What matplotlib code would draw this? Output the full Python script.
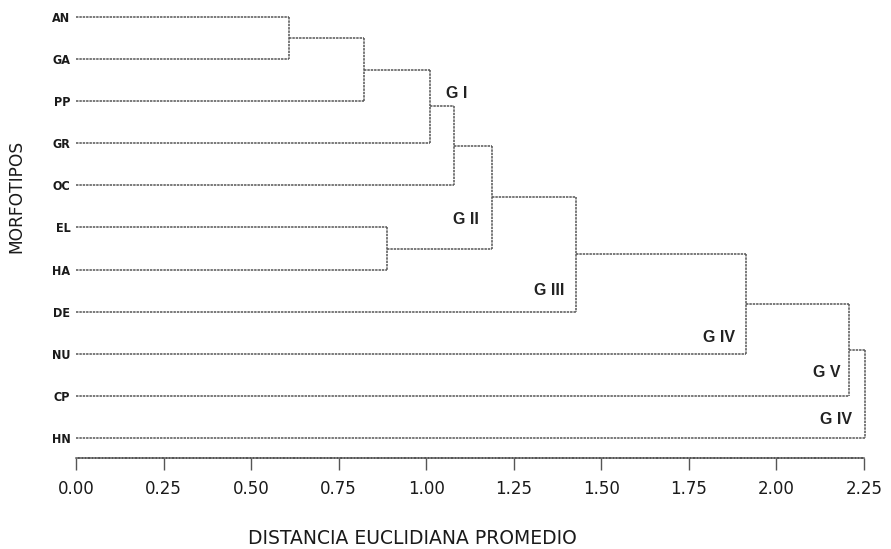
import matplotlib
matplotlib.use("Agg")
import matplotlib.pyplot as plt

# ---- data ----
leaves = ["AN", "GA", "PP", "GR", "OC", "EL", "HA", "DE", "NU", "CP", "HN"]
merge_a = [0, 11, 12, 13, 5, 14, 16, 17, 18, 19]
merge_b = [1, 2, 3, 4, 6, 15, 7, 8, 9, 10]
merge_h = [0.607, 0.823, 1.011, 1.079, 0.889, 1.187, 1.427, 1.912, 2.207, 2.253]
group_labels = ["G I", "G II", "G III", "G IV", "G V", "G IV"]
group_x = [1.086, 1.114, 1.350, 1.835, 2.145, 2.171]
group_y = [1.81, 4.81, 6.5, 7.62, 8.45, 9.55]
xticks = [0.00, 0.25, 0.50, 0.75, 1.00, 1.25, 1.50, 1.75, 2.00, 2.25]

W, H = 891, 549
x0, x1 = 76, 864
ybot = 458
sp = 42.1
fig = plt.figure(figsize=(W / 100, H / 100), dpi=100)
ax = fig.add_axes([x0 / W, 1 - ybot / H, (x1 - x0) / W, ybot / H])

lc = "#555555"
ls = (0, (1.6, 0.6))
lw = 1.1

n = len(leaves)
ypos = {i: float(i) for i in range(n)}
height = {i: 0.0 for i in range(n)}
for k, (a, b, h) in enumerate(zip(merge_a, merge_b, merge_h)):
    node = n + k
    for c in (a, b):
        ax.plot([height[c], h], [ypos[c], ypos[c]], color=lc, ls=ls, lw=lw,
                clip_on=False)
    ax.plot([h, h], [ypos[a], ypos[b]], color=lc, ls=ls, lw=lw, clip_on=False)
    ypos[node] = (ypos[a] + ypos[b]) / 2
    height[node] = h

for t, x, y in zip(group_labels, group_x, group_y):
    ax.text(x, y, t, ha="center", va="center", fontsize=11.5,
            fontweight="bold", color="#222222",
            family=["Liberation Sans", "DejaVu Sans"])

cond = dict(family=["DejaVu Sans"], fontstretch="condensed")
norm = dict(family=["DejaVu Sans"])
ax.set_xlim(0, 2.25)
ax.set_ylim((ybot - 17) / sp, -17 / sp)
ax.set_yticks(range(n))
ax.set_yticklabels(leaves, fontsize=9, fontweight="bold", color="#1a1a1a",
                   **cond)
ax.tick_params(axis="y", length=0, pad=4)
ax.set_xticks(xticks)
ax.set_xticklabels([f"{v:.2f}" for v in xticks], fontsize=12,
                   color="#1a1a1a", **norm)
ax.tick_params(axis="x", length=8.5, width=1, color="#555555", pad=7,
               direction="out")
for s in ("top", "right", "left"):
    ax.spines[s].set_visible(False)
ax.spines["bottom"].set_color("#555555")
ax.spines["bottom"].set_linestyle(ls)
ax.spines["bottom"].set_linewidth(1.1)

fig.text(412 / W, 1 - 538 / H, "DISTANCIA EUCLIDIANA PROMEDIO",
         ha="center", va="center", fontsize=13.5, color="#1a1a1a", **norm)
fig.text(16 / W, 1 - 196 / H, "MORFOTIPOS", rotation=90,
         ha="center", va="center", fontsize=12.3, color="#1a1a1a", **norm)

fig.savefig("out.png", dpi=100)
